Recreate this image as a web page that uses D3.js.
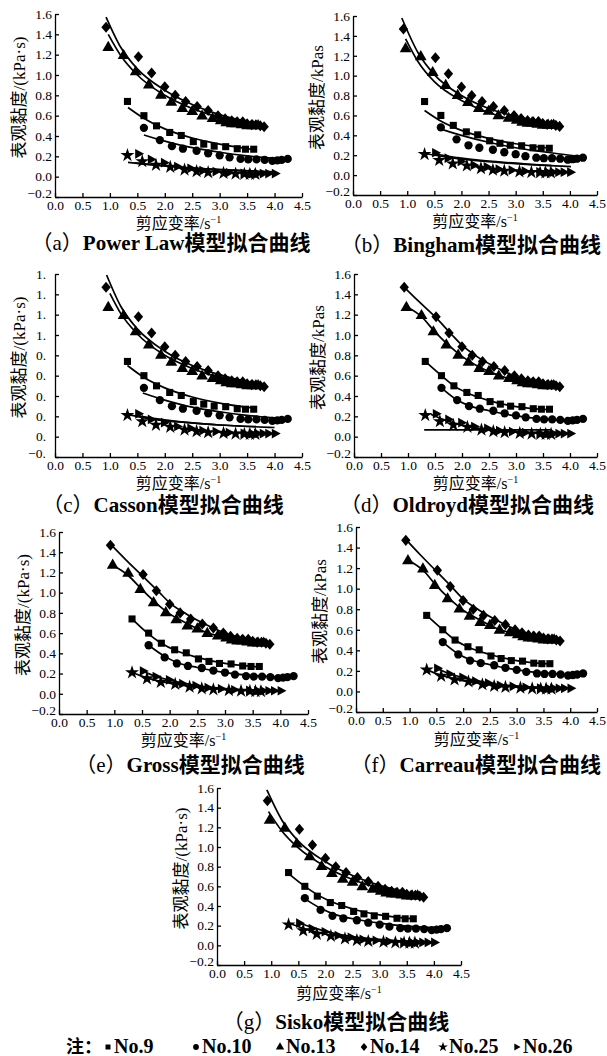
<!DOCTYPE html>
<html><head><meta charset="utf-8">
<script src="https://cdn.jsdelivr.net/npm/d3@7"></script>
<style>
body{margin:0;background:#fff;}
svg{display:block;}
</style></head><body>
<svg id="chart" width="607" height="1056"></svg>
<script>
// ---------- data ----------
const xTickValues = [0, 0.5, 1, 1.5, 2, 2.5, 3, 3.5, 4, 4.5];
const xTickLabels = ["0.0","0.5","1.0","0.5","2.0","2.5","3.0","3.5","4.0","4.5"];
const yTickValues = [-0.2, 0, 0.2, 0.4, 0.6, 0.8, 1.0, 1.2, 1.4, 1.6];
const yTickLabels = ["\u22120.2","0.0","0.2","0.4","0.6","0.8","1.0","1.2","1.4","1.6"];
const yTickLabelsCut = ["\u22120.","0.","0.","0.","0.","0.","1.","1.","1.","1."];
const seriesNames = ["No.9","No.10","No.13","No.14","No.25","No.26"];

const no9X  = [1.32,1.62,1.85,2.09,2.30,2.52,2.71,2.90,3.11,3.32,3.47,3.62];
const no9Y  = [0.74,0.60,0.50,0.435,0.405,0.345,0.32,0.30,0.295,0.275,0.27,0.27];
const no10X = [1.62,1.91,2.13,2.33,2.58,2.79,3.00,3.18,3.38,3.52,3.67,3.82,3.96,4.05,4.13,4.24];
const no10Y = [0.48,0.36,0.30,0.275,0.255,0.23,0.21,0.19,0.175,0.17,0.17,0.165,0.155,0.16,0.165,0.175];
const no13X = [0.97,1.25,1.47,1.71,1.93,2.12,2.32,2.50,2.68,2.87,3.02,3.12,3.22,3.30,3.40,3.50,3.60,3.70];
const no13Y = [1.27,1.19,1.03,0.90,0.80,0.73,0.67,0.64,0.595,0.57,0.55,0.53,0.52,0.52,0.51,0.50,0.50,0.50];
const no14X = [0.93,1.52,1.76,2.00,2.19,2.38,2.59,2.79,2.97,3.10,3.22,3.32,3.42,3.50,3.58,3.66,3.74,3.81];
const no14Y = [1.47,1.18,1.02,0.885,0.80,0.74,0.69,0.65,0.60,0.57,0.55,0.54,0.54,0.52,0.51,0.51,0.50,0.49];
const no25X = [1.32,1.59,1.84,2.10,2.36,2.58,2.79,3.07,3.29,3.45,3.55,3.65];
const no25Y = [0.21,0.15,0.115,0.095,0.068,0.052,0.042,0.035,0.028,0.026,0.025,0.025];
const no26X = [1.53,1.76,2.00,2.24,2.48,2.70,2.94,3.18,3.45,3.60,3.70,3.80,3.90,4.02];
const no26Y = [0.225,0.17,0.138,0.10,0.082,0.06,0.05,0.04,0.033,0.03,0.03,0.03,0.03,0.03];

// fitted curves per model, order: No.9, No.10, No.13, No.14, No.25, No.26
const fitPowerLaw = [
  [[1.33,0.68],[1.6,0.58],[2.0,0.47],[2.5,0.38],[3.0,0.32],[3.64,0.265]],
  [[1.62,0.41],[2.0,0.35],[2.5,0.285],[3.0,0.24],[3.5,0.205],[4.0,0.18],[4.24,0.17]],
  [[0.97,1.40],[1.2,1.19],[1.5,1.00],[2.0,0.80],[2.5,0.67],[3.0,0.58],[3.5,0.51],[3.82,0.48]],
  [[0.93,1.57],[1.2,1.27],[1.5,1.06],[2.0,0.85],[2.5,0.71],[3.0,0.61],[3.5,0.54],[3.82,0.50]],
  [[1.33,0.14],[2.0,0.105],[2.5,0.085],[3.0,0.07],[3.66,0.055]],
  [[1.45,0.135],[2.0,0.105],[2.5,0.085],[3.0,0.07],[3.5,0.058],[4.03,0.048]]
];
const fitBingham = [
  [[1.32,0.65],[1.6,0.55],[2.0,0.45],[2.5,0.37],[3.0,0.315],[3.64,0.27]],
  [[1.58,0.47],[2.0,0.40],[2.5,0.33],[3.0,0.275],[3.5,0.235],[4.0,0.20],[4.26,0.185]],
  [[0.97,1.37],[1.2,1.14],[1.5,0.94],[2.0,0.75],[2.5,0.63],[3.0,0.55],[3.5,0.495],[3.82,0.47]],
  [[0.90,1.58],[1.2,1.23],[1.5,1.01],[2.0,0.80],[2.5,0.67],[3.0,0.59],[3.5,0.53],[3.82,0.50]],
  [[1.30,0.22],[1.8,0.175],[2.5,0.135],[3.0,0.115],[3.66,0.095]],
  [[1.50,0.215],[2.0,0.17],[2.5,0.14],[3.0,0.12],[3.5,0.10],[4.02,0.085]]
];
const fitCasson = [
  [[1.32,0.70],[1.6,0.59],[2.0,0.48],[2.5,0.39],[3.0,0.33],[3.64,0.28]],
  [[1.6,0.43],[2.0,0.36],[2.5,0.29],[3.0,0.245],[3.5,0.21],[4.0,0.185],[4.24,0.175]],
  [[1.0,1.41],[1.2,1.21],[1.5,1.01],[2.0,0.80],[2.5,0.67],[3.0,0.58],[3.5,0.52],[3.82,0.49]],
  [[0.94,1.59],[1.2,1.28],[1.5,1.06],[2.0,0.84],[2.5,0.70],[3.0,0.61],[3.5,0.54],[3.82,0.51]],
  [[1.32,0.22],[1.8,0.17],[2.5,0.135],[3.0,0.115],[3.66,0.10]],
  [[1.5,0.205],[2.0,0.165],[2.5,0.135],[3.0,0.115],[3.5,0.10],[4.0,0.09]]
];
const fitOldroyd = [
  [[1.32,0.74],[1.62,0.60],[1.85,0.50],[2.1,0.43],[2.5,0.355],[3.0,0.295],[3.3,0.275],[3.62,0.265]],
  [[1.62,0.48],[1.91,0.36],[2.13,0.305],[2.5,0.255],[3.0,0.205],[3.5,0.175],[4.0,0.16],[4.24,0.16]],
  [[0.97,1.28],[1.25,1.18],[1.5,1.03],[1.75,0.90],[2.0,0.79],[2.3,0.69],[2.6,0.62],[3.0,0.55],[3.3,0.52],[3.7,0.50]],
  [[0.93,1.47],[1.2,1.33],[1.5,1.18],[1.8,1.01],[2.0,0.90],[2.3,0.78],[2.6,0.69],[3.0,0.59],[3.3,0.54],[3.6,0.51],[3.82,0.49]],
  [[1.30,0.066],[3.65,0.066]],
  [[1.42,0.22],[1.7,0.16],[2.0,0.11],[2.3,0.08],[2.7,0.056],[3.2,0.04],[3.6,0.032],[4.02,0.03]]
];
const fitGross = [
  [[1.32,0.74],[1.62,0.59],[1.85,0.50],[2.1,0.43],[2.5,0.36],[3.0,0.30],[3.3,0.28],[3.62,0.265]],
  [[1.62,0.48],[1.91,0.37],[2.13,0.31],[2.5,0.26],[3.0,0.21],[3.5,0.18],[4.0,0.165],[4.24,0.16]],
  [[0.97,1.27],[1.25,1.17],[1.5,1.03],[1.75,0.90],[2.0,0.79],[2.3,0.70],[2.6,0.62],[3.0,0.555],[3.3,0.52],[3.7,0.50]],
  [[0.93,1.48],[1.2,1.33],[1.5,1.17],[1.8,1.01],[2.0,0.90],[2.3,0.79],[2.6,0.70],[3.0,0.60],[3.3,0.55],[3.6,0.51],[3.82,0.49]],
  [[1.32,0.21],[1.6,0.155],[1.85,0.12],[2.1,0.095],[2.5,0.065],[3.0,0.042],[3.66,0.026]],
  [[1.5,0.225],[1.76,0.17],[2.0,0.135],[2.25,0.105],[2.5,0.08],[3.0,0.052],[3.5,0.036],[4.02,0.03]]
];
const fitCarreau = [
  [[1.32,0.74],[1.62,0.60],[1.85,0.50],[2.1,0.43],[2.5,0.36],[3.0,0.30],[3.3,0.28],[3.62,0.265]],
  [[1.62,0.48],[1.91,0.365],[2.13,0.31],[2.5,0.26],[3.0,0.21],[3.5,0.18],[4.0,0.165],[4.24,0.165]],
  [[0.97,1.28],[1.25,1.18],[1.5,1.03],[1.75,0.90],[2.0,0.79],[2.3,0.70],[2.6,0.62],[3.0,0.555],[3.3,0.52],[3.7,0.50]],
  [[0.93,1.48],[1.2,1.33],[1.5,1.17],[1.8,1.01],[2.0,0.90],[2.3,0.79],[2.6,0.70],[3.0,0.60],[3.3,0.55],[3.6,0.51],[3.82,0.49]],
  [[1.32,0.21],[1.6,0.155],[1.85,0.12],[2.1,0.095],[2.5,0.065],[3.0,0.042],[3.66,0.026]],
  [[1.5,0.225],[1.76,0.17],[2.0,0.135],[2.25,0.105],[2.5,0.08],[3.0,0.052],[3.5,0.036],[4.02,0.03]]
];
const fitSisko = [
  [[1.32,0.73],[1.62,0.60],[2.0,0.47],[2.5,0.37],[3.0,0.31],[3.62,0.27]],
  [[1.6,0.48],[1.9,0.38],[2.2,0.31],[2.6,0.26],[3.0,0.225],[3.5,0.195],[4.0,0.18],[4.24,0.175]],
  [[0.95,1.36],[1.2,1.16],[1.5,0.99],[2.0,0.80],[2.5,0.67],[3.0,0.58],[3.5,0.52],[3.82,0.49]],
  [[0.92,1.58],[1.2,1.27],[1.5,1.06],[2.0,0.85],[2.5,0.71],[3.0,0.61],[3.5,0.54],[3.82,0.50]],
  [[1.32,0.23],[1.6,0.17],[2.0,0.115],[2.5,0.075],[3.0,0.05],[3.66,0.03]],
  [[1.5,0.23],[1.8,0.175],[2.1,0.13],[2.5,0.09],[3.0,0.06],[3.5,0.04],[4.02,0.03]]
];

// ---------- drawing ----------
const SERIF = "'Liberation Serif','Noto Sans CJK SC',serif";
const svg = d3.select("#chart");
svg.append("rect").attr("width",607).attr("height",1056).attr("fill","#fff");

const seriesX = [no9X,no10X,no13X,no14X,no25X,no26X];
const seriesY = [no9Y,no10Y,no13Y,no14Y,no25Y,no26Y];

const diamondType = { draw(ctx, size){ const h=Math.sqrt(size)*0.78, w=h*0.85;
  ctx.moveTo(0,-h); ctx.lineTo(w,0); ctx.lineTo(0,h); ctx.lineTo(-w,0); ctx.closePath(); } };
const rightTriType = { draw(ctx, size){ const s=Math.sqrt(size)*0.72;
  ctx.moveTo(s,0); ctx.lineTo(-s*0.75,-s*0.95); ctx.lineTo(-s*0.75,s*0.95); ctx.closePath(); } };
const symTypes = [d3.symbolSquare, d3.symbolCircle, d3.symbolTriangle, diamondType, d3.symbolStar, rightTriType];
const symSizes = [50, 54, 60, 50, 60, 50];

const panels = [
  {x0:55,  x1:302, yTop:14,  yBot:197, ytitle:"表观黏度/(kPa·s)", letter:"a", model:"Power Law", fits:fitPowerLaw, yl:yTickLabels,    capX:171, capA:"middle", capY:250, xtY:229},
  {x0:353, x1:597, yTop:16,  yBot:195, ytitle:"表观黏度/kPas",    letter:"b", model:"Bingham",   fits:fitBingham,  yl:yTickLabels,    capX:601, capA:"end",    capY:252, xtY:227},
  {x0:55,  x1:302, yTop:274, yBot:457, ytitle:"表观黏度/(kPa·s)", letter:"c", model:"Casson",    fits:fitCasson,   yl:yTickLabelsCut, capX:163, capA:"middle", capY:512, xtY:489},
  {x0:354, x1:597, yTop:274, yBot:457, ytitle:"表观黏度/kPas",    letter:"d", model:"Oldroyd",   fits:fitOldroyd,  yl:yTickLabels,    capX:594, capA:"end",    capY:512, xtY:489},
  {x0:59,  x1:308, yTop:532, yBot:714, ytitle:"表观黏度/(kPa·s)", letter:"e", model:"Gross",     fits:fitGross,    yl:yTickLabels,    capX:190, capA:"middle", capY:772, xtY:746},
  {x0:356, x1:597, yTop:527, yBot:712, ytitle:"表观黏度/kPas",    letter:"f", model:"Carreau",   fits:fitCarreau,  yl:yTickLabels,    capX:601, capA:"end",    capY:772, xtY:745},
  {x0:217, x1:461, yTop:788, yBot:965, ytitle:"表观黏度/(kPa·s)", letter:"g", model:"Sisko",     fits:fitSisko,    yl:yTickLabels,    capX:336, capA:"middle", capY:1029, xtY:999}
];

panels.forEach(p => {
  const x = d3.scaleLinear().domain([0,4.5]).range([p.x0,p.x1]);
  const y = d3.scaleLinear().domain([-0.2,1.6]).range([p.yBot,p.yTop]);
  const g = svg.append("g");

  const xa = g.append("g").attr("transform",`translate(0,${p.yBot})`)
    .call(d3.axisBottom(x).tickValues(xTickValues).tickFormat((d,i)=>xTickLabels[i])
      .tickSizeInner(-4).tickSizeOuter(0).tickPadding(3));
  const ya = g.append("g").attr("transform",`translate(${p.x0},0)`)
    .call(d3.axisLeft(y).tickValues(yTickValues).tickFormat((d,i)=>p.yl[i])
      .tickSizeInner(-4).tickSizeOuter(0).tickPadding(p.yl===yTickLabelsCut?9:3));
  [xa,ya].forEach(a=>{
    a.selectAll("path,line").attr("stroke","#000").attr("stroke-width",1.3);
    a.selectAll("text").attr("font-family",SERIF).attr("font-size",13.5).attr("fill","#000");
  });
  // lowest y label sits just above the corner, as in the original
  ya.selectAll(".tick text").filter((d,i)=>i===0).attr("dy","0.05em");

  // fitted curves
  const line = d3.line().x(d=>x(d[0])).y(d=>y(d[1])).curve(d3.curveMonotoneX);
  p.fits.forEach(f => {
    g.append("path").attr("d",line(f)).attr("fill","none").attr("stroke","#000").attr("stroke-width",1.7);
  });

  // data markers
  seriesX.forEach((xs,si) => {
    const sym = d3.symbol().type(symTypes[si]).size(symSizes[si]);
    g.append("g").selectAll("path").data(xs.map((v,i)=>[v,seriesY[si][i]])).join("path")
      .attr("d",sym).attr("transform",d=>`translate(${x(d[0])},${y(d[1])})`).attr("fill","#000");
  });

  // y title
  const ym = (p.yTop+p.yBot)/2 - 8;
  g.append("text").attr("transform",`translate(${p.x0-34},${ym}) rotate(-90)`)
    .attr("text-anchor","middle").attr("dominant-baseline","middle")
    .attr("font-family",SERIF).attr("font-size",17).attr("fill","#000").text(p.ytitle);

  // x title
  const xm = (p.x0+p.x1)/2;
  const xt = g.append("text").attr("x",xm).attr("y",p.xtY).attr("text-anchor","middle")
    .attr("font-family",SERIF).attr("font-size",16).attr("fill","#000");
  xt.append("tspan").text("剪应变率/s");
  xt.append("tspan").attr("dy",-6).attr("font-size",10).text("\u22121");

  // caption
  const ct = g.append("text").attr("x",p.capX).attr("y",p.capY).attr("text-anchor",p.capA)
    .attr("font-family",SERIF).attr("font-size",21).attr("font-weight","bold").attr("fill","#000");
  ct.append("tspan").attr("font-weight","normal").text(`（${p.letter}）`);
  ct.append("tspan").text(p.model + "模型拟合曲线");
});

// legend
const lg = svg.append("g");
const ly = 1053;
lg.append("text").attr("x",66).attr("y",ly).attr("font-family",SERIF)
  .attr("font-size",18).attr("font-weight","bold").text("注：");
const legendMarkX = [108, 196, 280, 364, 443, 517];
seriesNames.forEach((nm,si) => {
  lg.append("path").attr("d",d3.symbol().type(symTypes[si]).size(symSizes[si]*0.5)())
    .attr("transform",`translate(${legendMarkX[si]},${ly-6})`).attr("fill","#000");
  lg.append("text").attr("x",legendMarkX[si]+6).attr("y",ly).attr("font-family",SERIF)
    .attr("font-size",20).attr("font-weight","bold").text(nm);
});
</script>
</body></html>
